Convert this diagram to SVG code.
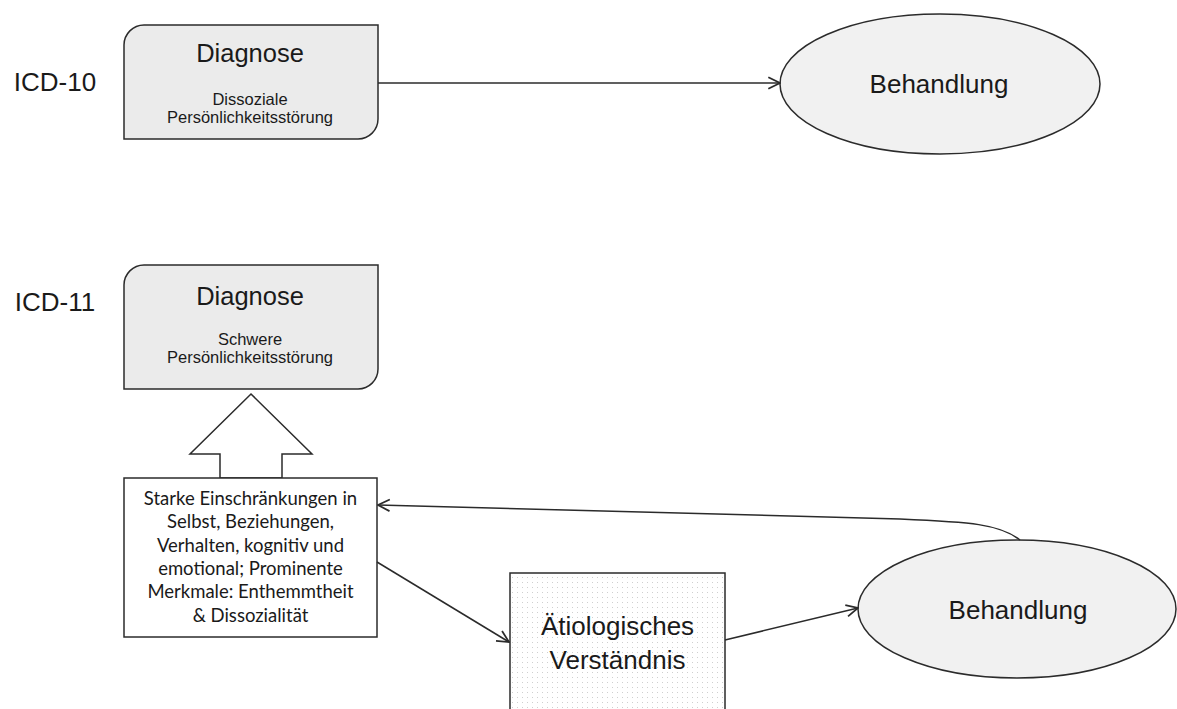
<svg xmlns="http://www.w3.org/2000/svg" width="1177" height="709" viewBox="0 0 1177 709">
  <style>
    .box { fill: #ebebeb; stroke: #2b2b2b; stroke-width: 1.5; }
    .ell { fill: #f1f1f1; stroke: #2b2b2b; stroke-width: 1.5; }
    .plain { fill: #ffffff; stroke: #2b2b2b; stroke-width: 1.5; }
    .conn { fill: none; stroke: #2b2b2b; stroke-width: 1.5; }
    .sans { font-family: "Liberation Sans", Arial, sans-serif; fill: #1a1a1a; text-anchor: middle; }
    .sub { font-size: 16.5px; }
    .cal { font-family: Lato, "Open Sans", sans-serif; fill: #1a1a1a; text-anchor: middle; font-size: 18.5px; }
  </style>
  <defs>
    <marker id="arr" markerUnits="userSpaceOnUse" markerWidth="14" markerHeight="14" viewBox="0 0 12 12" refX="11" refY="6" orient="auto">
      <path d="M1,1 L11,6 L1,11" fill="none" stroke="#2b2b2b" stroke-width="1.5"/>
    </marker>
    <pattern id="dots" patternUnits="userSpaceOnUse" width="5" height="5">
      <rect width="5" height="5" fill="#ffffff"/>
      <rect x="2" y="2" width="1" height="1" fill="#cfcfcf"/>
    </pattern>
  </defs>

  <g id="label-icd10"><text class="sans" x="55" y="91" font-size="26">ICD-10</text></g>
  <g id="label-icd11"><text class="sans" x="55" y="311" font-size="26">ICD-11</text></g>

  <g id="diagnose-icd10">
    <path class="box" d="M144,25 H378 V119 A20,20 0 0 1 358,139 H124 V45 A20,20 0 0 1 144,25 Z"/>
    <text class="sans" x="250" y="62" font-size="25.5">Diagnose</text>
    <text class="sans sub" x="250" y="105">Dissoziale</text>
    <text class="sans sub" x="250" y="123">Persönlichkeitsstörung</text>
  </g>

  <g id="behandlung-icd10">
    <ellipse class="ell" cx="940" cy="84" rx="160" ry="70"/>
    <text class="sans" x="939" y="93" font-size="26">Behandlung</text>
  </g>

  <g id="diagnose-icd11">
    <path class="box" d="M144,265 H378 V369 A20,20 0 0 1 358,389 H124 V285 A20,20 0 0 1 144,265 Z"/>
    <text class="sans" x="250" y="305" font-size="25.5">Diagnose</text>
    <text class="sans sub" x="250" y="345">Schwere</text>
    <text class="sans sub" x="250" y="363">Persönlichkeitsstörung</text>
  </g>

  <g id="block-arrow">
    <polygon class="plain" points="220,478 220,454 190,454 251,394 312,454 282,454 282,478"/>
  </g>

  <g id="merkmale">
    <rect class="plain" x="124" y="478" width="253" height="159"/>
    <text class="cal" x="250.5" y="505">Starke Einschränkungen in</text>
    <text class="cal" x="250.5" y="528">Selbst, Beziehungen,</text>
    <text class="cal" x="250.5" y="552">Verhalten, kognitiv und</text>
    <text class="cal" x="250.5" y="575">emotional; Prominente</text>
    <text class="cal" x="250.5" y="598">Merkmale: Enthemmtheit</text>
    <text class="cal" x="250.5" y="622">&amp; Dissozialität</text>
  </g>

  <g id="aetiologie">
    <rect x="510" y="573" width="215" height="150" fill="url(#dots)" stroke="#2b2b2b" stroke-width="1.5"/>
    <text class="sans" x="617.5" y="635" font-size="26">Ätiologisches</text>
    <text class="sans" x="617.5" y="669" font-size="26">Verständnis</text>
  </g>

  <g id="behandlung-icd11">
    <ellipse class="ell" cx="1017" cy="609" rx="159" ry="69"/>
    <text class="sans" x="1018" y="619" font-size="26">Behandlung</text>
  </g>

  <g id="connectors">
    <line class="conn" x1="378" y1="83" x2="780" y2="83" marker-end="url(#arr)"/>
    <line class="conn" x1="377" y1="562" x2="509" y2="642" marker-end="url(#arr)"/>
    <line class="conn" x1="725" y1="640" x2="858" y2="608" marker-end="url(#arr)"/>
    <path class="conn" d="M1020,540 C1000,524 970,522 900,519 L378,505" marker-end="url(#arr)"/>
  </g>
</svg>
